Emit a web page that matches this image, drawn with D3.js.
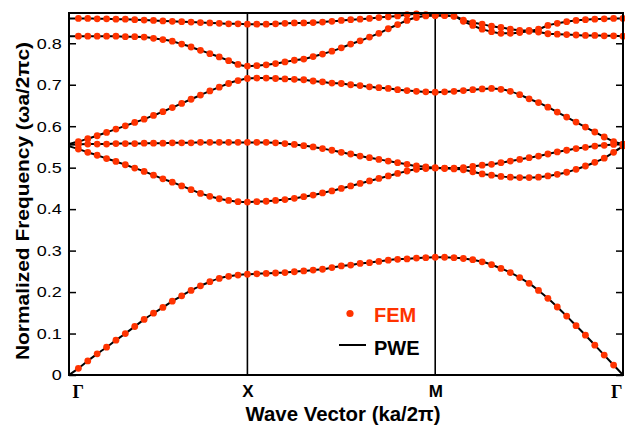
<!DOCTYPE html>
<html><head><meta charset="utf-8">
<script src="https://cdn.jsdelivr.net/npm/d3@7"></script>
<style>body{margin:0;background:#fff}svg{display:block}</style>
</head><body>
<svg id="c" width="625" height="428"></svg>
<script>
// ---- data ----
const kLabels = ["Γ", "X", "M", "Γ"];
const kTicks = [0, 19, 39, 59];
const yTicks = [0, 0.1, 0.2, 0.3, 0.4, 0.5, 0.6, 0.7, 0.8];
const legendLabels = ["FEM", "PWE"];

const band1 = [0, 0.016, 0.034, 0.051, 0.067, 0.084, 0.100, 0.117, 0.134, 0.149, 0.163, 0.178, 0.191, 0.204, 0.215, 0.225, 0.233, 0.238, 0.241, 0.243,
  0.244, 0.245, 0.246, 0.247, 0.249, 0.251, 0.253, 0.255, 0.259, 0.263, 0.265, 0.269, 0.271, 0.274, 0.277, 0.279, 0.280, 0.282, 0.283, 0.284,
  0.284, 0.283, 0.281, 0.278, 0.273, 0.266, 0.257, 0.247, 0.235, 0.221, 0.204, 0.185, 0.164, 0.142, 0.119, 0.096, 0.072, 0.048, 0.024, 0];
const band2 = [0.552, 0.545, 0.537, 0.530, 0.522, 0.515, 0.507, 0.499, 0.491, 0.482, 0.473, 0.465, 0.456, 0.447, 0.438, 0.431, 0.425, 0.421, 0.418, 0.417,
  0.418, 0.419, 0.421, 0.423, 0.426, 0.430, 0.434, 0.439, 0.444, 0.450, 0.456, 0.462, 0.468, 0.474, 0.480, 0.486, 0.492, 0.496, 0.498, 0.499,
  0.498, 0.497, 0.495, 0.490, 0.485, 0.482, 0.479, 0.477, 0.476, 0.476, 0.477, 0.480, 0.484, 0.489, 0.496, 0.504, 0.513, 0.523, 0.537, 0.552];
const band3 = [0.555, 0.556, 0.557, 0.557, 0.557, 0.558, 0.558, 0.558, 0.559, 0.559, 0.559, 0.560, 0.560, 0.560, 0.561, 0.561, 0.561, 0.561, 0.561, 0.561,
  0.561, 0.561, 0.560, 0.558, 0.556, 0.553, 0.550, 0.546, 0.542, 0.537, 0.533, 0.528, 0.524, 0.520, 0.516, 0.512, 0.508, 0.504, 0.502, 0.500,
  0.499, 0.499, 0.500, 0.503, 0.506, 0.508, 0.512, 0.516, 0.520, 0.524, 0.528, 0.533, 0.538, 0.542, 0.546, 0.549, 0.552, 0.554, 0.556, 0.556];
const band4 = [0.557, 0.563, 0.570, 0.577, 0.585, 0.593, 0.601, 0.609, 0.617, 0.626, 0.635, 0.645, 0.655, 0.665, 0.675, 0.685, 0.694, 0.703, 0.710, 0.715,
  0.716, 0.716, 0.715, 0.714, 0.713, 0.712, 0.709, 0.707, 0.704, 0.703, 0.700, 0.698, 0.695, 0.693, 0.691, 0.688, 0.686, 0.684, 0.683, 0.682,
  0.683, 0.684, 0.686, 0.688, 0.690, 0.691, 0.689, 0.684, 0.676, 0.666, 0.657, 0.646, 0.634, 0.622, 0.610, 0.598, 0.586, 0.574, 0.563, 0.557];
const band5 = [0.817, 0.817, 0.817, 0.817, 0.817, 0.817, 0.816, 0.816, 0.815, 0.812, 0.809, 0.805, 0.798, 0.791, 0.783, 0.775, 0.767, 0.758, 0.749, 0.745,
  0.746, 0.748, 0.751, 0.755, 0.759, 0.762, 0.768, 0.774, 0.781, 0.789, 0.798, 0.806, 0.815, 0.824, 0.835, 0.845, 0.855, 0.862, 0.866, 0.867,
  0.867, 0.865, 0.853, 0.843, 0.834, 0.828, 0.824, 0.824, 0.826, 0.829, 0.827, 0.823, 0.822, 0.821, 0.820, 0.819, 0.819, 0.818, 0.818, 0.817];
const band6 = [0.860, 0.860, 0.860, 0.859, 0.859, 0.858, 0.858, 0.857, 0.856, 0.855, 0.854, 0.853, 0.852, 0.851, 0.850, 0.849, 0.848, 0.847, 0.847, 0.846,
  0.846, 0.846, 0.847, 0.848, 0.849, 0.849, 0.850, 0.851, 0.853, 0.855, 0.857, 0.858, 0.860, 0.862, 0.864, 0.866, 0.869, 0.871, 0.869, 0.867,
  0.867, 0.866, 0.856, 0.850, 0.846, 0.841, 0.838, 0.834, 0.831, 0.831, 0.834, 0.843, 0.848, 0.852, 0.855, 0.857, 0.858, 0.859, 0.860, 0.860];

const bands = [band1, band2, band3, band4, band5, band6];

// ---- chart ----
const svg = d3.select("#c");
const FONT = "'Liberation Sans', Arial, Helvetica, sans-serif";
const RED = "#ff3300";
const L = 69, R = 623, T = 13, B = 375;

const x = d3.scaleLinear().domain([0, 59]).range([L, R]);
const y = d3.scaleLinear().domain([0, 0.873]).range([B, T]);

svg.append("defs").append("clipPath").attr("id", "clip")
  .append("rect").attr("x", L).attr("y", T - 4).attr("width", R - L + 4).attr("height", B - T + 4);

// vertical symmetry lines
svg.append("g").selectAll("line").data(kTicks.slice(1, 3)).join("line")
  .attr("x1", d => x(d)).attr("x2", d => x(d)).attr("y1", T).attr("y2", B)
  .attr("stroke", "#000").attr("stroke-width", 1.6);

// PWE lines
const line = d3.line().x((d, i) => x(i)).y(d => y(d)).curve(d3.curveMonotoneX);
svg.append("g").attr("clip-path", "url(#clip)")
  .selectAll("path").data(bands).join("path")
  .attr("d", line).attr("fill", "none").attr("stroke", "#000").attr("stroke-width", 2);

// FEM dots
const pts = bands.flatMap(b => b.map((v, i) => ({ i, v }))).filter(d => d.i > 0 && d.v > 0);
svg.append("g").selectAll("circle").data(pts).join("circle")
  .attr("cx", d => x(d.i)).attr("cy", d => y(d.v)).attr("r", 3.4).attr("fill", RED);

// left axis
const ga = svg.append("g").attr("transform", `translate(${L},0)`)
  .call(d3.axisLeft(y).tickValues(yTicks).tickSizeInner(-7).tickSizeOuter(0).tickPadding(6)
    .tickFormat(d => d === 0 ? "0" : d3.format(".1f")(d)));
ga.select(".domain").remove();
ga.selectAll(".tick line").attr("stroke", "#000").attr("stroke-width", 1.5);
ga.selectAll(".tick text").attr("font-family", FONT).attr("font-size", 15).attr("fill", "#000")
  .attr("transform", "scale(1.2,1)");

// right axis
const gr = svg.append("g").attr("transform", `translate(${R},0)`)
  .call(d3.axisRight(y).tickValues(yTicks).tickSizeInner(-7).tickSizeOuter(0).tickFormat(""));
gr.select(".domain").remove();
gr.selectAll(".tick line").attr("stroke", "#000").attr("stroke-width", 1.5);

// bottom axis labels
const gb = svg.append("g").attr("transform", `translate(0,${B})`)
  .call(d3.axisBottom(x).tickValues(kTicks).tickSize(0).tickPadding(10).tickFormat((d, i) => kLabels[i]));
gb.select(".domain").remove();
gb.selectAll(".tick text").attr("fill", "#000").attr("font-weight", "bold")
  .attr("font-family", (d, i) => kLabels[i] === "Γ" ? "'Liberation Serif', 'Times New Roman', serif" : FONT)
  .attr("font-size", (d, i) => kLabels[i] === "Γ" ? 18 : 17)
  .attr("text-anchor", (d, i) => i === 0 ? "start" : (i === kTicks.length - 1 ? "end" : "middle"))
  .attr("dx", (d, i) => i === 0 ? 3 : (i === kTicks.length - 1 ? -1 : 0));

// frame
svg.append("rect").attr("x", L).attr("y", T).attr("width", R - L).attr("height", B - T)
  .attr("fill", "none").attr("stroke", "#000").attr("stroke-width", 2);

// axis titles
svg.append("text").attr("x", (L + R) / 2 - 3).attr("y", 421)
  .attr("text-anchor", "middle").attr("font-family", FONT).attr("font-weight", "bold").attr("font-size", 20)
  .attr("textLength", 195).attr("lengthAdjust", "spacingAndGlyphs")
  .text("Wave Vector (ka/2π)");
svg.append("text").attr("transform", "translate(28.5,201) rotate(-90)")
  .attr("text-anchor", "middle").attr("font-family", FONT).attr("font-weight", "bold").attr("font-size", 19)
  .attr("textLength", 318).attr("lengthAdjust", "spacingAndGlyphs")
  .text("Normalized Frequency (ωa/2πc)");

// legend
const lg = svg.append("g");
lg.append("circle").attr("cx", 350).attr("cy", 313.5).attr("r", 3.6).attr("fill", RED);
lg.append("text").attr("x", 374).attr("y", 321.5).attr("font-family", FONT).attr("font-weight", "bold")
  .attr("font-size", 20).attr("fill", RED).text(legendLabels[0]);
lg.append("line").attr("x1", 339).attr("x2", 366).attr("y1", 345).attr("y2", 345)
  .attr("stroke", "#000").attr("stroke-width", 2);
lg.append("text").attr("x", 374).attr("y", 354.5).attr("font-family", FONT).attr("font-weight", "bold")
  .attr("font-size", 20).attr("fill", "#000").text(legendLabels[1]);
</script>
</body></html>
